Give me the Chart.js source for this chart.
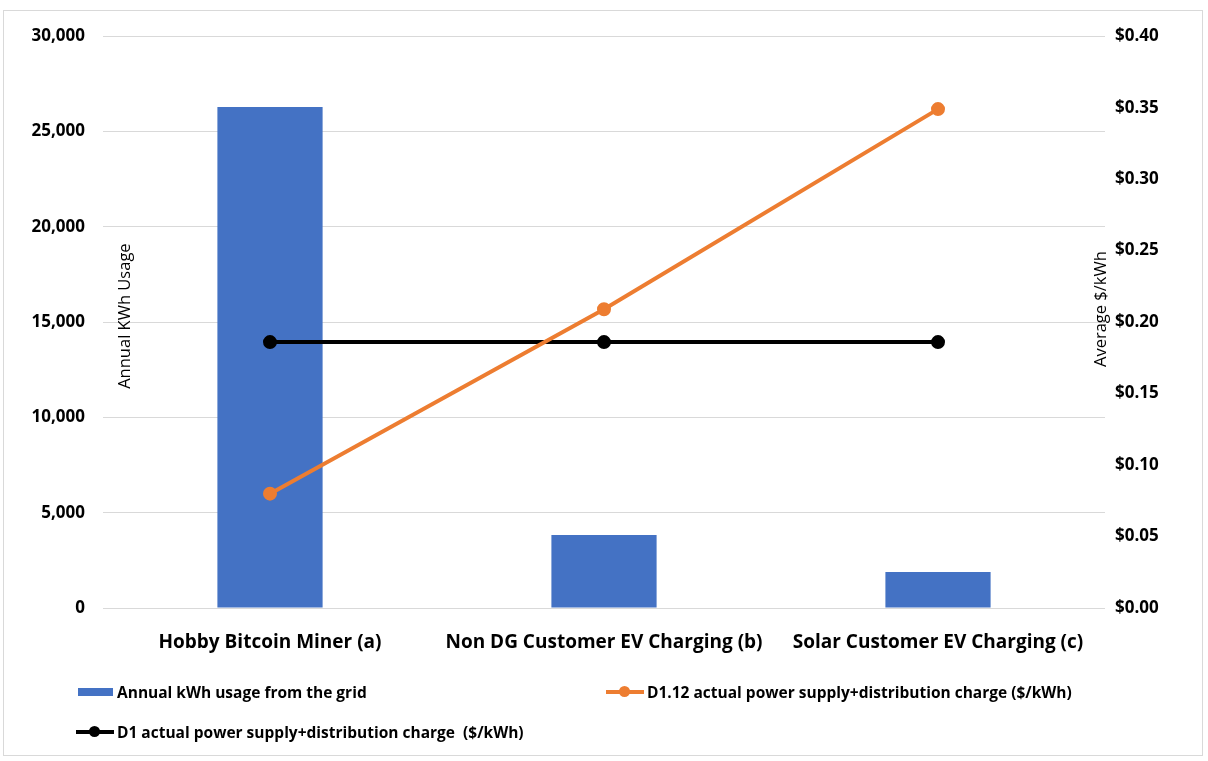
<!DOCTYPE html>
<html>
<head>
<meta charset="utf-8">
<script src="https://cdn.jsdelivr.net/npm/chart.js@4"></script>
<style>
  html, body { margin: 0; padding: 0; background: #fff; }
  body { width: 1208px; height: 761px; position: relative; overflow: hidden; }
  #box {
    position: absolute; left: 3px; top: 10px; width: 1200px; height: 746px;
    border: 1px solid #d9d9d9; box-sizing: border-box;
  }
  #wrap { position: absolute; left: 0; top: -3px; width: 1198px; height: 747px; }
  #legend {
    position: absolute; left: 72px; top: 669px; width: 1100px;
    display: grid; grid-template-columns: 530px 530px; row-gap: 16px;
    font-family: 'Open Sans', sans-serif;
    font-weight: bold; font-size: 15.5px; color: #000;
  }
  .item { display: flex; align-items: center; height: 24px; white-space: pre; }
  .sym { position: relative; width: 38px; height: 12px; margin-right: 3px; flex: none; }
  .sym .bar { position: absolute; left: 2px; top: 2px; width: 35px; height: 8px; }
  .sym .ln { position: absolute; left: 0; top: 4px; width: 38px; height: 4px; }
  .sym .dot { position: absolute; left: 13px; top: 0; width: 11px; height: 11px; border-radius: 50%; }
</style>
</head>
<body>
<div id="box">
  <div id="wrap"><canvas id="myChart"></canvas></div>
  <div id="legend"></div>
</div>
<script>
(function () {
  'use strict';

  var categories = ['Hobby Bitcoin Miner (a)', 'Non DG Customer EV Charging (b)', 'Solar Customer EV Charging (c)'];
  var annualKwh = [26280, 3830, 1890];
  var d112Charge = [0.080, 0.209, 0.349];
  var d1Charge = [0.186, 0.186, 0.186];
  var kwhTicks = [0, 5000, 10000, 15000, 20000, 25000, 30000];
  var priceTicks = [0, 0.05, 0.10, 0.15, 0.20, 0.25, 0.30, 0.35, 0.40];

  var font = "'Open Sans', sans-serif";

  // axis titles sit inside the plot, like the excel original
  var axisTitles = {
    id: 'axisTitles',
    afterDraw: function (chart) {
      var c = chart.ctx, a = chart.chartArea;
      var mid = (a.top + a.bottom) / 2;
      c.save();
      c.font = '16.5px ' + font;
      c.fillStyle = '#000';
      c.textAlign = 'center';
      c.textBaseline = 'middle';
      c.translate(a.left + 22, mid - 6);
      c.rotate(-Math.PI / 2);
      c.fillText('Annual KWh Usage', 0, 0);
      c.restore();
      c.save();
      c.font = '16.5px ' + font;
      c.fillStyle = '#000';
      c.textAlign = 'center';
      c.textBaseline = 'middle';
      c.translate(a.right - 4, mid - 13);
      c.rotate(-Math.PI / 2);
      c.fillText('Average $/kWh', 0, 0);
      c.restore();
    }
  };

  var ctx = document.getElementById('myChart').getContext('2d');
  var chart = new Chart(ctx, {
    type: 'bar',
    data: {
      labels: categories,
      datasets: [{
        type: 'line',
        label: 'D1.12 actual power supply+distribution charge ($/kWh)',
        data: d112Charge,
        yAxisID: 'y1',
        borderColor: '#ED7D31',
        backgroundColor: '#ED7D31',
        borderWidth: 4,
        pointRadius: 5,
        pointHoverRadius: 5,
        order: 1
      }, {
        type: 'line',
        label: 'D1 actual power supply+distribution charge  ($/kWh)',
        data: d1Charge,
        yAxisID: 'y1',
        borderColor: '#000000',
        backgroundColor: '#000000',
        borderWidth: 4,
        pointRadius: 5,
        pointHoverRadius: 5,
        order: 2
      }, {
        label: 'Annual kWh usage from the grid',
        data: annualKwh,
        yAxisID: 'y',
        backgroundColor: '#4472C4',
        categoryPercentage: 1,
        barPercentage: 0.315,
        order: 3
      }]
    },
    options: {
      responsive: true,
      maintainAspectRatio: false,
      animation: false,
      layout: { padding: { top: 16, left: 0, right: 0, bottom: 0 } },
      plugins: {
        legend: { display: false },
        tooltip: { enabled: false }
      },
      scales: {
        x: {
          grid: { display: false },
          border: { display: false },
          ticks: { color: '#000', padding: 15, font: { family: font, size: 19, weight: 'bold' } },
          afterFit: function (s) { s.height = 147; }
        },
        y: {
          position: 'left',
          min: 0,
          max: 30000,
          afterBuildTicks: function (s) { s.ticks = kwhTicks.map(function (v) { return { value: v }; }); },
          grid: { color: '#d9d9d9', lineWidth: 1, drawTicks: false },
          border: { display: false },
          ticks: {
            color: '#000',
            padding: 18,
            font: { family: font, size: 17, weight: 'bold' },
            callback: function (v) { return v.toLocaleString('en-US'); }
          },
          afterFit: function (s) { s.width = 99; }
        },
        y1: {
          position: 'right',
          min: 0,
          max: 0.40,
          afterBuildTicks: function (s) { s.ticks = priceTicks.map(function (v) { return { value: v }; }); },
          grid: { display: false, drawTicks: false },
          border: { display: false },
          ticks: {
            color: '#000',
            padding: 10,
            font: { family: font, size: 17, weight: 'bold' },
            callback: function (v) { return '$' + v.toFixed(2); }
          },
          afterFit: function (s) { s.width = 97; }
        }
      }
    },
    plugins: [axisTitles]
  });

  // legend laid out in two columns like the original
  var order = [2, 0, 1];
  var legend = document.getElementById('legend');
  order.forEach(function (i) {
    var ds = chart.data.datasets[i];
    var item = document.createElement('div');
    item.className = 'item';
    var sym = document.createElement('span');
    sym.className = 'sym';
    if (ds.type === 'line') {
      sym.innerHTML = '<span class="ln" style="background:' + ds.borderColor + '"></span>' +
        '<span class="dot" style="background:' + ds.borderColor + '"></span>';
    } else {
      sym.innerHTML = '<span class="bar" style="background:' + ds.backgroundColor + '"></span>';
    }
    item.appendChild(sym);
    item.appendChild(document.createTextNode(ds.label));
    legend.appendChild(item);
  });
})();
</script>
</body>
</html>
